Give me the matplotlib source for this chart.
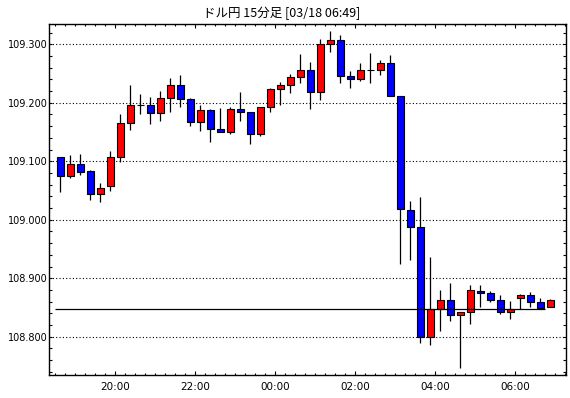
import matplotlib
matplotlib.use("Agg")
import matplotlib.pyplot as plt
import numpy as np
from matplotlib.ticker import FixedLocator, MultipleLocator, FormatStrFormatter

times = ["18:30", "18:45", "19:00", "19:15", "19:30", "19:45", "20:00", "20:15",
         "20:30", "20:45", "21:00", "21:15", "21:30", "21:45", "22:00", "22:15",
         "22:30", "22:45", "23:00", "23:15", "23:30", "23:45", "00:00", "00:15",
         "00:30", "00:45", "01:00", "01:15", "01:30", "01:45", "02:00", "02:15",
         "02:30", "02:45", "03:00", "03:15", "03:30", "03:45", "04:00", "04:15",
         "04:30", "04:45", "05:00", "05:15", "05:30", "05:45", "06:00", "06:15",
         "06:30", "06:45"]

opens = [109.107, 109.075, 109.095, 109.083, 109.044, 109.058, 109.107, 109.166,
         109.197, 109.197, 109.182, 109.209, 109.230, 109.206, 109.167, 109.187,
         109.156, 109.150, 109.189, 109.185, 109.146, 109.192, 109.223, 109.230,
         109.244, 109.256, 109.218, 109.300, 109.307, 109.246, 109.241, 109.256,
         109.256, 109.268, 109.212, 109.016, 108.987, 108.800, 108.847, 108.862,
         108.837, 108.842, 108.878, 108.874, 108.862, 108.842, 108.866, 108.871,
         108.859, 108.850]
highs = [109.108, 109.111, 109.112, 109.085, 109.063, 109.118, 109.181, 109.230,
         109.215, 109.210, 109.220, 109.242, 109.248, 109.208, 109.197, 109.189,
         109.191, 109.193, 109.218, 109.185, 109.193, 109.226, 109.235, 109.250,
         109.283, 109.270, 109.309, 109.323, 109.316, 109.254, 109.268, 109.285,
         109.273, 109.282, 109.212, 109.032, 109.039, 108.936, 108.880, 108.892,
         108.842, 108.888, 108.888, 108.878, 108.871, 108.861, 108.873, 108.876,
         108.866, 108.864]
lows = [109.048, 109.072, 109.077, 109.033, 109.030, 109.049, 109.098, 109.153,
        109.181, 109.163, 109.168, 109.184, 109.193, 109.161, 109.152, 109.133,
        109.150, 109.147, 109.169, 109.129, 109.144, 109.185, 109.197, 109.217,
        109.234, 109.190, 109.205, 109.287, 109.234, 109.226, 109.238, 109.234,
        109.248, 109.212, 108.925, 108.931, 108.789, 108.785, 108.810, 108.826,
        108.746, 108.822, 108.851, 108.859, 108.838, 108.831, 108.847, 108.851,
        108.849, 108.850]
closes = [109.075, 109.095, 109.082, 109.044, 109.055, 109.107, 109.166, 109.197,
          109.197, 109.182, 109.209, 109.230, 109.206, 109.167, 109.187, 109.156,
          109.150, 109.189, 109.185, 109.146, 109.192, 109.223, 109.230, 109.244,
          109.256, 109.218, 109.300, 109.307, 109.246, 109.241, 109.256, 109.256,
          109.268, 109.212, 109.018, 108.987, 108.800, 108.847, 108.862, 108.837,
          108.842, 108.879, 108.874, 108.862, 108.842, 108.847, 108.871, 108.859,
          108.849, 108.862]

ref_level = 108.848
tick_times = ["20:00", "22:00", "00:00", "02:00", "04:00", "06:00"]
y_ticks = [108.8, 108.9, 109.0, 109.1, 109.2, 109.3]
title = "ドル円 15分足 [03/18 06:49]"

W, H = 570, 398
fig = plt.figure(figsize=(W / 100, H / 100), dpi=100)
fig.patch.set_facecolor("white")
ax = fig.add_axes([49 / W, 1 - 375 / H, (565.6 - 49) / W, (375 - 24) / H])

o = np.array(opens); c = np.array(closes)
hi = np.array(highs); lo = np.array(lows)
x = np.arange(len(times)) + 0.5

colors = np.where(c > o, "#ff0000", np.where(c < o, "#0000ff", "black"))
ax.vlines(x, lo, hi, color="black", lw=0.9, zorder=2)
ax.bar(x, c - o, bottom=o, width=0.66, color=colors, edgecolor="black",
       linewidth=0.8, zorder=3)

ax.hlines(ref_level, 0, len(times) - 1, color="black", lw=0.9, zorder=4)

ax.set_xlim(-0.63, 51.03)
ax.set_ylim(108.7345, 109.3347)

ax.yaxis.set_major_locator(FixedLocator(y_ticks))
ax.yaxis.set_minor_locator(MultipleLocator(0.02))
ax.yaxis.set_major_formatter(FormatStrFormatter("%.3f"))
ax.xaxis.set_major_locator(FixedLocator([times.index(t) for t in tick_times]))
ax.set_xticklabels(tick_times)
ax.xaxis.set_minor_locator(MultipleLocator(1))

ax.tick_params(which="both", direction="in", top=True, right=True,
               color="black", width=0.8, labelcolor="black")
ax.tick_params(axis="x", which="major", length=3.0, pad=5, labelsize=7.5)
ax.tick_params(axis="x", which="minor", length=1.6)
ax.tick_params(axis="y", which="major", length=2.0, pad=1, labelsize=7.0)
ax.tick_params(axis="y", which="minor", length=2.0)

ax.grid(axis="y", which="major", color="black", linestyle=(0, (1, 2)), lw=0.8,
        zorder=1)
ax.set_axisbelow(True)
for s in ax.spines.values():
    s.set_color("black")
    s.set_linewidth(1.0)

fig.text(0.495, 0.966, title, ha="center", va="center", fontsize=9,
         family=["Noto Sans CJK JP", "DejaVu Sans"])

fig.savefig("out.png", dpi=100, facecolor="white")
